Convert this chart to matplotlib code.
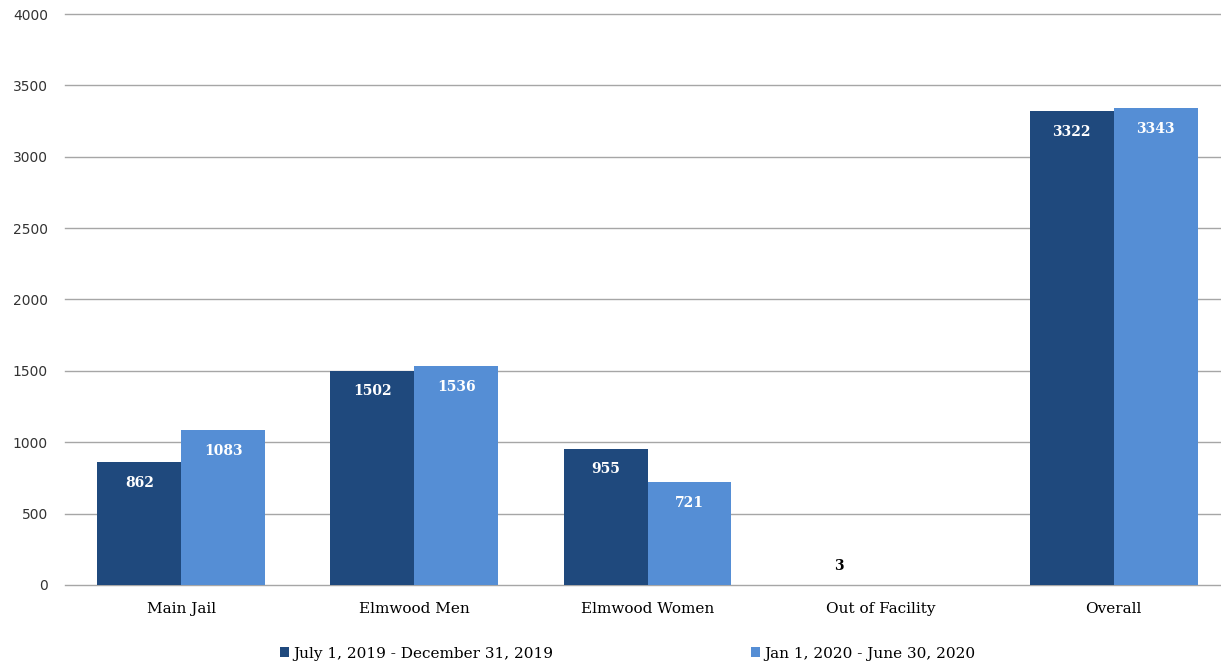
import matplotlib.pyplot as plt
import numpy as np

# Datos
categorias = ['Main Jail', 'Elmwood Men', 'Elmwood Women', 'Out of Facility', 'Overall']
periodo1 = [862, 1502, 955, 3, 3322]
periodo2 = [1083, 1536, 721, 0, 3343]
leyendas = ['July 1, 2019 - December 31, 2019', 'Jan 1, 2020 - June 30, 2020']
colores = ['#1f497d', '#558ed5']

serif = ['DejaVu Serif']

fig = plt.figure(figsize=(12.21, 6.67), dpi=100)
ax = fig.add_axes([0.053, 0.123, 0.947, 0.856])

x = np.arange(len(categorias))
ancho = 0.36

b1 = ax.bar(x - ancho / 2, periodo1, ancho, color=colores[0], label=leyendas[0], zorder=3)
b2 = ax.bar(x + ancho / 2, periodo2, ancho, color=colores[1], label=leyendas[1], zorder=3)

# Etiquetas de valores
for barras in (b1, b2):
    for b in barras:
        h = b.get_height()
        if h == 0:
            continue
        cx = b.get_x() + b.get_width() / 2
        if h < 200:
            ax.annotate(str(int(h)), (cx, h), xytext=(0, 13), textcoords='offset points',
                        ha='center', va='center', color='black',
                        fontsize=10, fontweight='bold', family=serif)
        else:
            ax.annotate(str(int(h)), (cx, h), xytext=(0, -15), textcoords='offset points',
                        ha='center', va='center', color='white',
                        fontsize=10, fontweight='bold', family=serif)

ax.set_ylim(0, 4000)
ax.set_yticks(range(0, 4001, 500))
ax.set_xlim(-0.5, 4.46)
ax.set_xticks(x)
ax.set_xticklabels(categorias, family=serif, fontsize=11)
ax.tick_params(axis='x', length=0, pad=12)
ax.tick_params(axis='y', length=0, pad=12, labelsize=10, labelcolor='#333333')
ax.grid(axis='y', color='#a6a6a6', linewidth=1, zorder=0)
for l in ax.get_ygridlines():
    l.set_clip_on(False)
for s in ax.spines.values():
    s.set_visible(False)

fig.legend(loc='center', bbox_to_anchor=(0.514, 0.02), ncol=2, frameon=False,
           prop={'family': serif, 'size': 11}, handlelength=0.6, handleheight=0.6,
           handletextpad=0.3, columnspacing=12.9)

fig.savefig('out.png', dpi=100)
